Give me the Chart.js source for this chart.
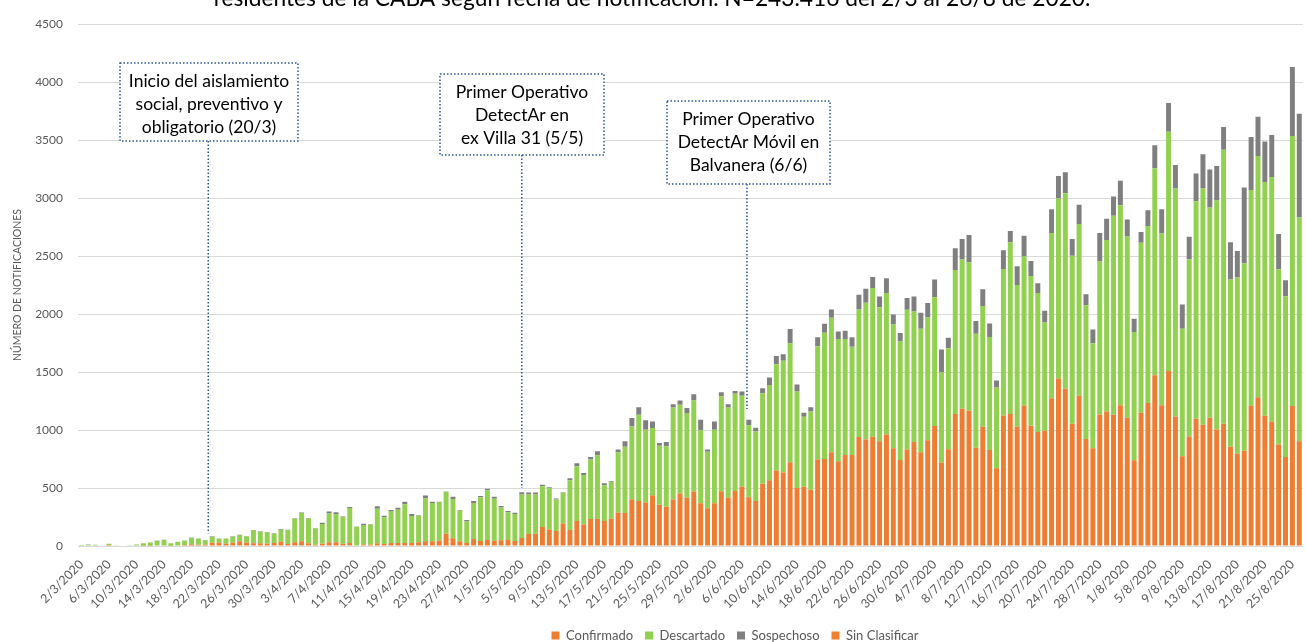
<!DOCTYPE html>
<html lang="es">
<head>
<meta charset="utf-8">
<title>Notificaciones CABA</title>
<script src="https://cdn.jsdelivr.net/npm/chart.js@4.4.1/dist/chart.umd.min.js"></script>
<style>
  html, body { margin: 0; padding: 0; background: #fff; }
  #wrap { width: 1306px; height: 642px; }
</style>
</head>
<body>
<div id="wrap"><canvas id="chart" width="1306" height="642"></canvas></div>
<script>
// Days shown: [month, first day, last day]
const monthDays = [[3, 2, 31], [4, 1, 30], [5, 1, 31], [6, 1, 30], [7, 1, 31], [8, 1, 26]];
const labels = [];
monthDays.forEach(([m, from, to]) => {
  for (let d = from; d <= to; d++) labels.push(`${d}/${m}/2020`);
});

// Series values (one per day)
const confirmado = [
  0, 0, 0, 0, 8, 0, 0, 0, 0, 2,
  3, 5, 5, 3, 5, 8, 15, 10, 10, 29,
  29, 20, 29, 40, 29, 23, 23, 20, 26, 37,
  17, 32, 40, 23, 11, 20, 32, 32, 20, 26,
  5, 14, 11, 23, 17, 26, 26, 26, 26, 32,
  40, 40, 46, 106, 66, 40, 26, 60, 43, 52,
  46, 49, 52, 43, 69, 103, 106, 163, 143, 129,
  195, 137, 215, 186, 232, 235, 215, 235, 289, 284,
  404, 387, 375, 438, 355, 338, 401, 453, 415, 470,
  369, 326, 369, 473, 418, 475, 510, 421, 387, 536,
  567, 650, 633, 722, 501, 510, 484, 745, 750, 808,
  730, 785, 785, 939, 919, 942, 902, 962, 842, 742,
  831, 896, 808, 911, 1034, 719, 833, 1137, 1183, 1166,
  848, 1028, 828, 670, 1126, 1137, 1028, 1209, 1037, 982,
  994, 1274, 1443, 1355, 1054, 1295, 922, 842, 1134, 1160,
  1131, 1214, 1105, 739, 1148, 1232, 1472, 1214, 1509, 1117,
  773, 945, 1097, 1045, 1105, 1005, 1054, 856, 796, 822,
  1211, 1283, 1123, 1071, 874, 768, 1206, 902
];
const descartado = [
  8, 10, 11, 0, 12, 6, 0, 6, 14, 21,
  28, 41, 46, 20, 32, 38, 56, 53, 39, 51,
  34, 43, 51, 54, 54, 111, 100, 97, 80, 104,
  121, 203, 244, 215, 141, 169, 249, 244, 230, 301,
  161, 167, 173, 298, 230, 276, 287, 333, 232, 232,
  370, 330, 333, 362, 339, 267, 186, 310, 378, 429,
  361, 283, 240, 232, 375, 341, 338, 353, 355, 272,
  263, 430, 472, 427, 513, 547, 309, 318, 519, 572,
  627, 744, 627, 579, 510, 521, 793, 764, 731, 784,
  628, 487, 633, 819, 776, 837, 785, 619, 601, 781,
  822, 917, 965, 1025, 831, 604, 676, 976, 1089, 1160,
  1054, 999, 933, 1100, 1177, 1283, 1157, 1218, 1068, 1022,
  1205, 1126, 1065, 1059, 1111, 782, 871, 1243, 1286, 1280,
  982, 1040, 973, 696, 1263, 1481, 1223, 1286, 1291, 1198,
  933, 1424, 1553, 1687, 1449, 1480, 1154, 905, 1318, 1478,
  1716, 1724, 1564, 1105, 1467, 1526, 1784, 1481, 2062, 1965,
  1100, 1527, 1876, 2037, 1813, 1974, 2363, 1441, 1518, 1615,
  1859, 2079, 2016, 2111, 1512, 1386, 2328, 1930
];
const sospechoso = [
  0, 2, 0, 0, 0, 0, 0, 0, 0, 0,
  0, 2, 2, 0, 0, 2, 3, 2, 2, 3,
  2, 2, 3, 3, 3, 4, 5, 4, 3, 5,
  3, 4, 5, 4, 3, 12, 17, 14, 5, 9,
  3, 11, 4, 21, 14, 8, 17, 23, 18, 4,
  26, 12, 3, 2, 20, 3, 12, 17, 9, 12,
  17, 12, 9, 11, 20, 17, 17, 11, 9, 9,
  6, 17, 26, 17, 23, 34, 17, 8, 23, 46,
  72, 66, 81, 57, 23, 37, 29, 37, 43, 55,
  91, 18, 72, 34, 29, 25, 37, 48, 32, 43,
  63, 71, 55, 123, 60, 34, 37, 78, 77, 71,
  66, 72, 81, 126, 121, 95, 92, 128, 86, 72,
  103, 129, 138, 124, 152, 194, 92, 186, 177, 235,
  109, 146, 118, 60, 160, 97, 160, 180, 129, 85,
  101, 206, 194, 180, 143, 166, 95, 120, 246, 183,
  166, 210, 146, 115, 91, 137, 198, 209, 247, 203,
  209, 194, 238, 295, 327, 297, 195, 321, 229, 653,
  456, 338, 349, 361, 303, 137, 596, 894
];
const sinClasificar = [
  0, 0, 0, 0, 0, 0, 0, 0, 0, 0,
  0, 0, 0, 0, 0, 0, 0, 0, 0, 0,
  0, 0, 0, 0, 0, 0, 0, 0, 0, 0,
  0, 0, 0, 0, 0, 0, 0, 0, 0, 0,
  0, 0, 0, 0, 0, 0, 0, 0, 0, 0,
  0, 0, 0, 0, 0, 0, 0, 0, 0, 0,
  0, 0, 0, 0, 0, 0, 0, 0, 0, 0,
  0, 0, 0, 0, 0, 0, 0, 0, 0, 0,
  0, 0, 0, 0, 0, 0, 0, 0, 0, 0,
  0, 0, 0, 0, 0, 0, 0, 0, 0, 0,
  0, 0, 0, 0, 0, 0, 0, 0, 0, 0,
  0, 0, 0, 0, 0, 0, 0, 0, 0, 0,
  0, 0, 0, 0, 0, 0, 0, 0, 0, 0,
  0, 0, 0, 0, 0, 0, 0, 0, 0, 0,
  0, 0, 0, 0, 0, 0, 0, 0, 0, 0,
  0, 0, 0, 0, 0, 0, 0, 0, 0, 0,
  0, 0, 0, 0, 0, 0, 0, 0, 0, 0,
  0, 0, 0, 0, 0, 0, 0, 0
];

const yTicks = [0, 500, 1000, 1500, 2000, 2500, 3000, 3500, 4000, 4500];

const titleText = "residentes de la CABA según fecha de notificación. N=243.416 del 2/3 al 26/8 de 2020.";

// Annotation boxes: text, date the pointer marks, box [x, y, w, h], value where pointer ends
const notes = [
  { lines: ["Inicio del aislamiento", "social, preventivo y", "obligatorio (20/3)"], date: "20/3/2020", dx: 3, box: [120, 63, 178, 78], tip: 110 },
  { lines: ["Primer Operativo", "DetectAr en", "ex Villa 31 (5/5)"], date: "5/5/2020", dx: 0, box: [440, 74, 164, 81], tip: 500 },
  { lines: ["Primer Operativo", "DetectAr Móvil en", "Balvanera (6/6)"], date: "6/6/2020", dx: 5, box: [667, 101, 163, 83], tip: 1180 }
];

const FONT = "Lato, 'Open Sans', sans-serif";
Chart.defaults.font.family = FONT;
Chart.defaults.color = "#595959";

const overlay = {
  id: "overlay",
  afterLayout(chart) {
    // legend sits a little right of centre in the original
    chart.legend.left += 82;
    chart.legend.right += 82;
  },
  afterDraw(chart) {
    const ctx = chart.ctx;
    const xs = chart.scales.x, ys = chart.scales.y;
    ctx.save();

    // title, cut at the top edge
    let size = 20;
    ctx.font = `${size}px ${FONT}`;
    size = size * 877 / ctx.measureText(titleText).width;
    ctx.font = `${size}px ${FONT}`;
    ctx.fillStyle = "#000";
    ctx.textAlign = "center";
    ctx.textBaseline = "alphabetic";
    ctx.fillText(titleText, 652, 6);

    ctx.strokeStyle = "#2F5597";
    ctx.lineWidth = 1.5;
    ctx.setLineDash([1.5, 2]);
    notes.forEach(n => {
      const [bx, by, bw, bh] = n.box;
      const px = xs.getPixelForValue(labels.indexOf(n.date)) + n.dx;
      ctx.beginPath();
      ctx.moveTo(px, by + bh);
      ctx.lineTo(px, ys.getPixelForValue(n.tip));
      ctx.stroke();
      ctx.fillStyle = "#fff";
      ctx.fillRect(bx, by, bw, bh);
      ctx.strokeRect(bx, by, bw, bh);
      ctx.fillStyle = "#000";
      ctx.font = `17.5px ${FONT}`;
      ctx.textBaseline = "middle";
      n.lines.forEach((t, i) => ctx.fillText(t, bx + bw / 2, by + 18 + i * 23));
    });
    ctx.restore();
  }
};

new Chart(document.getElementById("chart"), {
  type: "bar",
  data: {
    labels: labels,
    datasets: [
      { label: "Confirmado", data: confirmado, backgroundColor: "#ED7D31" },
      { label: "Descartado", data: descartado, backgroundColor: "#92D050" },
      { label: "Sospechoso", data: sospechoso, backgroundColor: "#7F7F7F" },
      { label: "Sin Clasificar", data: sinClasificar, backgroundColor: "#F08133" }
    ]
  },
  options: {
    responsive: false,
    animation: false,
    devicePixelRatio: 1,
    datasets: { bar: { barPercentage: 0.72, categoryPercentage: 1.0, borderWidth: 0 } },
    layout: { padding: { top: 24, right: 0, bottom: -10, left: 0 } },
    plugins: {
      legend: {
        position: "bottom",
        labels: { boxWidth: 8, boxHeight: 8, padding: 12, font: { size: 13 }, color: "#595959" }
      },
      tooltip: { enabled: false }
    },
    scales: {
      x: {
        stacked: true,
        grid: { display: false },
        border: { display: true, color: "#d9d9d9" },
        ticks: {
          autoSkip: false,
          minRotation: 45,
          maxRotation: 45,
          font: { size: 12.5 },
          color: "#595959",
          // only every fourth day is labelled; null keeps the rest from taking room
          callback: (v, i) => (i % 4 === 0 ? labels[i] : null)
        },
        afterFit: s => { s.height = 71; }
      },
      y: {
        stacked: true,
        min: 0,
        max: 4500,
        afterBuildTicks: s => { s.ticks = yTicks.map(v => ({ value: v })); },
        grid: { color: "#d9d9d9", drawTicks: false },
        border: { display: false },
        ticks: { padding: 15, font: { size: 12 }, color: "#595959", callback: v => String(v) },
        title: {
          display: true,
          text: "NÚMERO DE NOTIFICACIONES",
          font: { size: 10.5 },
          color: "#595959",
          padding: { top: 11, bottom: 0 }
        },
        afterFit: s => { s.width = 78; }
      }
    }
  },
  plugins: [overlay]
});
</script>
</body>
</html>
